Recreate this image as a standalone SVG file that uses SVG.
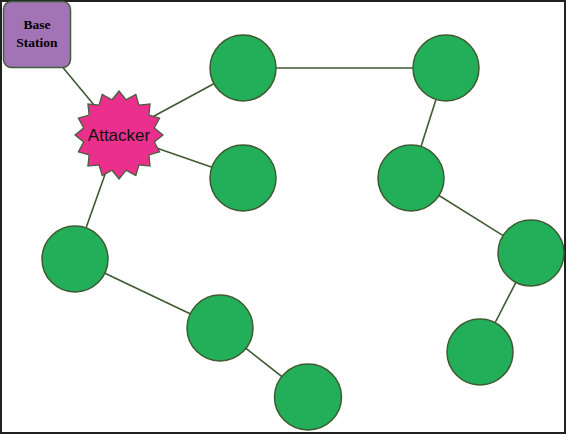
<svg xmlns="http://www.w3.org/2000/svg" width="567" height="435" viewBox="0 0 567 435">
<style>
.edge{stroke:#3f5a32;stroke-width:1.6;fill:none}
.node{fill:#23ae5a;stroke:#3d5a30;stroke-width:1.5}
.bs{fill:#a374b5;stroke:#3f5f3a;stroke-width:1.5}
.star{fill:#ea2f8c;stroke:#3f5f3a;stroke-width:1.2}
</style>
<rect x="1" y="1" width="564" height="432" fill="#ffffff" stroke="#222222" stroke-width="2"/>
<g id="connectors">
<line class="edge" x1="40" y1="40" x2="119" y2="135"/>
<line class="edge" x1="119" y1="135" x2="243" y2="68"/>
<line class="edge" x1="119" y1="135" x2="243" y2="178"/>
<line class="edge" x1="119" y1="135" x2="75" y2="259"/>
<line class="edge" x1="243" y1="68" x2="446" y2="68"/>
<line class="edge" x1="446" y1="68" x2="411" y2="178"/>
<line class="edge" x1="411" y1="178" x2="531" y2="253"/>
<line class="edge" x1="531" y1="253" x2="480" y2="352"/>
<line class="edge" x1="75" y1="259" x2="220" y2="328"/>
<line class="edge" x1="220" y1="328" x2="308" y2="397"/>
</g>
<g id="base-station">
<rect class="bs" x="3.5" y="1.5" width="67" height="66" rx="8"/>
<text x="37" y="29" text-anchor="middle" font-family="'Liberation Serif', serif" font-weight="bold" font-size="13.5">Base</text>
<text x="37" y="47" text-anchor="middle" font-family="'Liberation Serif', serif" font-weight="bold" font-size="13.5">Station</text>
</g>
<g id="attacker" transform="translate(119,135)">
<polygon class="star" points="0,-44 7.02,-35.31 16.84,-40.65 20,-29.93 31.11,-31.11 29.93,-20 40.65,-16.84 35.31,-7.02 44,0 35.31,7.02 40.65,16.84 29.93,20 31.11,31.11 20,29.93 16.84,40.65 7.02,35.31 0,44 -7.02,35.31 -16.84,40.65 -20,29.93 -31.11,31.11 -29.93,20 -40.65,16.84 -35.31,7.02 -44,0 -35.31,-7.02 -40.65,-16.84 -29.93,-20 -31.11,-31.11 -20,-29.93 -16.84,-40.65 -7.02,-35.31"/>
<text x="0" y="6" text-anchor="middle" font-family="'Liberation Sans', sans-serif" font-size="17" fill="#111">Attacker</text>
</g>
<g id="n1"><circle class="node" cx="243" cy="68" r="33"/></g>
<g id="n2"><circle class="node" cx="446" cy="68" r="33"/></g>
<g id="n3"><circle class="node" cx="243" cy="178" r="33"/></g>
<g id="n4"><circle class="node" cx="411" cy="178" r="33"/></g>
<g id="n5"><circle class="node" cx="531" cy="253" r="33"/></g>
<g id="n6"><circle class="node" cx="75" cy="259" r="33"/></g>
<g id="n7"><circle class="node" cx="220" cy="328" r="33"/></g>
<g id="n8"><ellipse class="node" cx="308" cy="397" rx="33.5" ry="33"/></g>
<g id="n9"><circle class="node" cx="480" cy="352" r="33"/></g>
</svg>
